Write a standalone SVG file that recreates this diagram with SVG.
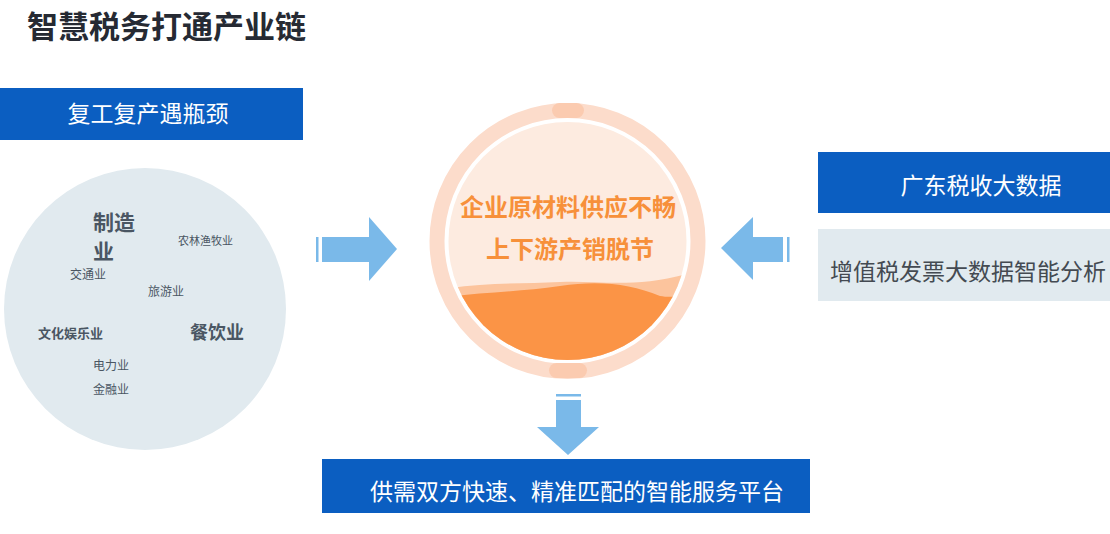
<svg xmlns="http://www.w3.org/2000/svg" width="1110" height="534" viewBox="0 0 1110 534">
<style>
text{font-family:"Noto Sans CJK SC","Noto Sans",sans-serif;}
.bar{fill:#0b5ec1;}
.light{fill:#e1eaef;}
.wt{fill:#ffffff;font-size:23px;}
.arrow{fill:#7ab9e9;}
.ind{fill:#4a5663;}
.org{fill:#f7903a;font-size:24px;font-weight:bold;text-anchor:middle;}
</style>
<defs>
<clipPath id="inner"><circle cx="567.5" cy="241" r="119"/></clipPath>
</defs>
<rect width="1110" height="534" fill="#ffffff"/>
<g id="title"><text x="27" y="38" font-size="31" font-weight="bold" fill="#262a33">智慧税务打通产业链</text></g>

<g id="bottleneck">
<rect class="bar" x="0" y="88" width="303" height="52"/>
<text class="wt" x="148" y="122" text-anchor="middle">复工复产遇瓶颈</text>
</g>

<g id="industries">
<circle class="light" cx="145" cy="309" r="141"/>
<text class="ind" x="93" y="230" font-size="21" font-weight="bold">制造</text>
<text class="ind" x="93" y="259" font-size="21" font-weight="bold">业</text>
<text class="ind" x="178" y="245" font-size="11">农林渔牧业</text>
<text class="ind" x="70" y="279" font-size="12">交通业</text>
<text class="ind" x="148" y="296" font-size="12">旅游业</text>
<text class="ind" x="38" y="338" font-size="13" font-weight="bold">文化娱乐业</text>
<text class="ind" x="190" y="339" font-size="18" font-weight="bold">餐饮业</text>
<text class="ind" x="93" y="370" font-size="12">电力业</text>
<text class="ind" x="93" y="394" font-size="12">金融业</text>
</g>

<g id="problem">
<circle cx="567.5" cy="241" r="130.5" fill="none" stroke="#fcdccb" stroke-width="15"/>
<circle cx="567.5" cy="241" r="119" fill="#fdebe0"/>
<g clip-path="url(#inner)">
<path d="M440 290 C 480 282, 520 284, 560 282 C 600 280, 640 290, 700 270 L700 380 L440 380 Z" fill="#fcc49d"/>
<path d="M440 298 C 480 292, 520 292, 560 286 C 600 280, 630 284, 660 296 C 670 298, 690 296, 700 294 L700 380 L440 380 Z" fill="#fb9446"/>
</g>
<rect x="552" y="103" width="32" height="15" rx="7.5" fill="#fbcbb0"/>
<rect x="549" y="363" width="38" height="15" rx="7.5" fill="#fbcbb0"/>
<text class="org" x="568" y="216">企业原材料供应不畅</text>
<text class="org" x="570" y="258">上下游产销脱节</text>
</g>

<g id="bigdata">
<rect class="bar" x="818" y="152" width="292" height="61"/>
<text class="wt" x="981" y="194" text-anchor="middle">广东税收大数据</text>
<rect class="light" x="818" y="229" width="292" height="72"/>
<text x="968" y="280" font-size="23" fill="#444a52" text-anchor="middle">增值税发票大数据智能分析</text>
</g>

<g id="platform">
<rect class="bar" x="322" y="459" width="488" height="54"/>
<text class="wt" x="577" y="500" text-anchor="middle">供需双方快速、精准匹配的智能服务平台</text>
</g>

<g id="connectors">
<rect class="arrow" x="316" y="237" width="2.5" height="25"/>
<polygon class="arrow" points="322,237 369,237 369,217 397,249 369,281 369,262 322,262"/>
<rect class="arrow" x="787" y="237" width="2.5" height="25"/>
<polygon class="arrow" points="783,237 753,237 753,217 721,248 753,280 753,262 783,262"/>
<rect class="arrow" x="556" y="394" width="25" height="2.5"/>
<polygon class="arrow" points="556,400 581,400 581,427 599,427 568,455 537,427 556,427"/>
</g>
</svg>
